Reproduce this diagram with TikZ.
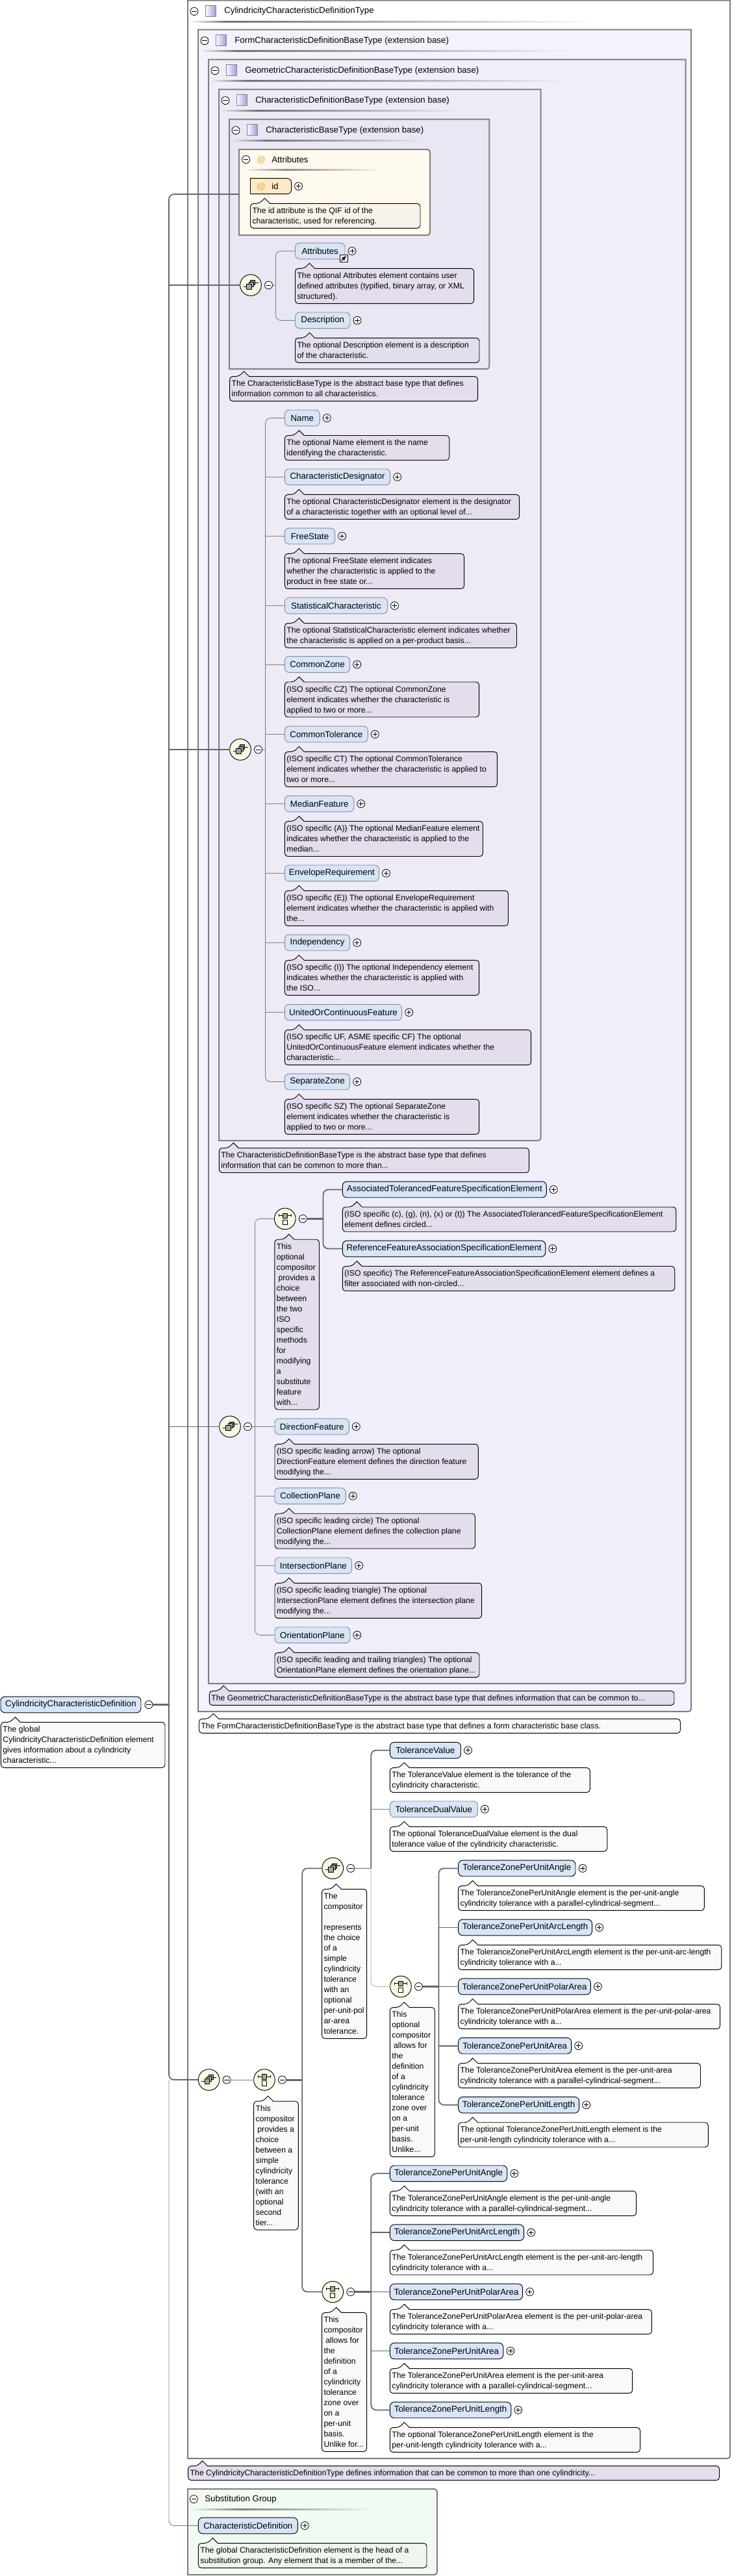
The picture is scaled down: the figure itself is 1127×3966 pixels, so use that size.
\documentclass[tikz,border=0pt]{standalone}
\usepackage{fontspec}
\setmainfont{Liberation Sans}

\definecolor{elemfill}{HTML}{D7E5F7}
\definecolor{cmtfill}{HTML}{E3DDEC}
\definecolor{cmtwhite}{HTML}{F9F9F9}
\definecolor{cmtcream}{HTML}{F8F3EA}
\definecolor{cmtgreen}{HTML}{EFF6EE}
\definecolor{compfill}{HTML}{FAF8E3}
\definecolor{boxtwo}{HTML}{F4F2FA}
\definecolor{boxthree}{HTML}{F0EEF8}
\definecolor{boxfour}{HTML}{EEEBF6}
\definecolor{boxfive}{HTML}{EAE7F4}
\definecolor{attrbg}{HTML}{FFF9EE}
\definecolor{attrfill}{HTML}{FFE9C6}
\definecolor{subbg}{HTML}{F1FBF1}
\definecolor{atsign}{HTML}{F0A63C}
\definecolor{iconviolet}{HTML}{A99BD8}

\tikzset{
  elembase/.style={fill=elemfill,rounded corners=5pt,minimum height=18.5pt,inner sep=0pt,outer sep=0pt,
    font=\fontsize{10}{12}\selectfont},
  elemreq/.style={elembase,draw=black,line width=0.7pt},
  elemopt/.style={elembase,draw=black!45,line width=0.7pt},
  plusmark/.style={circle,draw=black,fill=white,line width=0.6pt,minimum size=9pt,inner sep=0pt,outer sep=0pt,
    path picture={\draw[line width=0.6pt] (path picture bounding box.center) +(-2.8pt,0) -- +(2.8pt,0) +(0,-2.8pt) -- +(0,2.8pt);}},
  minusmark/.style={circle,draw=black,fill=white,line width=0.6pt,minimum size=9pt,inner sep=0pt,outer sep=0pt,
    path picture={\draw[line width=0.6pt] (path picture bounding box.center) +(-2.8pt,0) -- +(2.8pt,0);}},
  cmtline/.style={draw=black,line width=0.7pt},
  cmttext/.style={anchor=north west,inner sep=0pt,outer sep=0pt,align=left,font=\fontsize{9.2}{12}\selectfont},
  typeline/.style={draw=black!50,line width=1.5pt},
  typetext/.style={anchor=west,inner sep=0pt,font=\fontsize{10}{12}\selectfont},
  compos/.style={circle,draw=black,fill=compfill,line width=0.7pt,minimum size=24.5pt,inner sep=0pt,outer sep=0pt},
  optline/.style={draw=black!50,line width=0.7pt},
  faintline/.style={draw=black!28,line width=0.7pt},
  reqline/.style={draw=black!60,line width=1.3pt},
  heavyline/.style={draw=black!60,line width=2.2pt},
  seqglyph/.pic={
    \draw[line width=0.6pt] (-11.5,2) -- (-6,2);
    \draw[line width=0.6pt] (6,-4) -- (11.5,-4);
    \filldraw[fill=black!45,line width=0.5pt] (-0.5,-7.5) rectangle (6.5,-0.5);
    \filldraw[fill=black!35,line width=0.5pt] (-3,-5) rectangle (4,2);
    \filldraw[fill=black!35,line width=0.5pt] (-6.5,-2) rectangle (1,6);
  },
  choiceglyph/.pic={
    \draw[line width=0.6pt] (-9.5,-5) -- (9.5,-5);
    \draw[line width=0.6pt] (-9.5,-7) -- (-9.5,-3) (9.5,-7) -- (9.5,-3);
    \filldraw[fill=black!35,line width=0.5pt] (-3.5,-8.5) rectangle (3.5,-1);
    \filldraw[fill=white,line width=0.5pt] (-3.5,1.5) rectangle (3.5,9);
  },
}

% element with its plus mark
\newcommand{\elemnode}[6][elemreq]{
  \pgfmathsetmacro\elwd{(#4-#3)*0.75}
  \node[#1,minimum width=\elwd pt,anchor=west] (#2) at (#3,#5) {#6};
  \node[plusmark] (#2plus) at (#4+11,#5) {};
}
% note with notch, n lines of text
\newcommand{\cmtnode}[7][cmtfill]{
  \draw[cmtline,fill=#1,rounded corners=3.5pt] (#3,#5+16*#6+6) -- (#3,#5) -- (#3+14,#5) [sharp corners] -- (#3+22,#5-8) -- (#3+30,#5)
    [rounded corners=3.5pt] -- (#4,#5) -- (#4,#5+16*#6+6) -- cycle;
  \node[cmttext] (#2) at (#3+3,#5+3) {\rule{0pt}{9pt}#7};
}
% type box with header
\newcommand{\typebox}[8]{
  \draw[typeline,fill=#6] (#2,#3) -- (#4,#3) [rounded corners=3pt] -- (#4,#5) [sharp corners] -- (#2,#5) -- cycle;
  \node[minusmark] (#1minus) at (#2+10,#3+17) {};
  \shade[left color=white,right color=iconviolet,draw=iconviolet!80!black,line width=0.4pt] (#2+27,#3+8) rectangle (#2+43,#3+25);
  \node[typetext] (#1) at (#2+56,#3+17) {#8};
  \shade[left color=#6,right color=black!55] (#2+3,#3+32) rectangle (#2+60,#3+34);
  \shade[left color=black!55,right color=#6] (#2+60,#3+32) rectangle (#7,#3+34);
}
% compositor with its minus mark
\newcommand{\compnode}[4]{
  \node[compos] (#1) at (#2,#3) {};
  \pic at (#1) {#4};
  \node[minusmark] (#1minus) at (#2+27.5,#3) {};
}

\begin{document}
\begin{tikzpicture}[x=0.75pt,y=-0.75pt]
  \useasboundingbox (0,0) rectangle (1127,3966);

  \typebox{cyltype}{289}{0.5}{1124}{3785}{white}{919}{CylindricityCharacteristicDefinitionType}
  \typebox{formtype}{305}{45.7}{1064}{2635}{boxtwo}{876}{FormCharacteristicDefinitionBaseType (extension base)}
  \typebox{geomtype}{321}{91.7}{1055.5}{2592}{boxthree}{873}{GeometricCharacteristicDefinitionBaseType (extension base)}
  \typebox{deftype}{337}{137.7}{832.5}{1756}{boxfour}{709}{CharacteristicDefinitionBaseType (extension base)}
  \typebox{basetype}{353}{183.7}{753.3}{568}{boxfive}{655}{CharacteristicBaseType (extension base)}

  % attributes
  \draw[typeline,fill=attrbg,rounded corners=3pt] (368,230) [sharp corners] -- (368,362) [rounded corners=3pt] -- (662,362) -- (662,230) [sharp corners] -- cycle;
  \node[minusmark] (attrminus) at (378.6,245.5) {};
  \node[typetext,text=atsign] (attrat) at (395,246.5) {@};
  \node[typetext] (attrtitle) at (418,245.5) {Attributes};
  \shade[left color=attrbg,right color=black!45] (375,260) rectangle (440,262);
  \shade[left color=black!45,right color=attrbg] (440,260) rectangle (587,262);
  \draw[cmtline,fill=attrfill,rounded corners=5pt] (385.5,274.7) [sharp corners] -- (385.5,298.7) [rounded corners=5pt] -- (448.7,298.7) -- (448.7,274.7) [sharp corners] -- cycle;
  \node[typetext,text=atsign] (attrsign) at (395,287.5) {@};
  \node[typetext] (attrid) at (418,286.5) {id};
  \node[plusmark] (attridplus) at (459.5,286.7) {};
  \cmtnode[cmtcream]{attridnote}{385.5}{647}{313.3}{2}{The id attribute is the QIF id of the\\characteristic, used for referencing.}
  \coordinate (attrport) at (368,299);

  % base type
  \compnode{seqbase}{386}{439}{seqglyph}
  \coordinate (barbase) at (424.5,439);
  \elemnode[elemopt]{baseattr}{454.5}{531}{386.5}{Attributes}
  \node[draw=black,fill=white,minimum size=8.5pt,inner sep=0pt,line width=0.6pt] (baseattrlink) at (529.3,397.7) {};
  \draw[-latex,line width=1pt] (525.5,401.5) -- (533.5,393.5);
  \cmtnode{baseattrnote}{454.5}{729.6}{413.3}{3}{The optional Attributes element contains user\\defined attributes (typified, binary array, or XML\\structured).}
  \elemnode[elemopt]{basedesc}{454.5}{539}{493.3}{Description}
  \cmtnode{basedescnote}{454.5}{738}{520.3}{2}{The optional Description element is a description\\of the characteristic.}
  \cmtnode{basenote}{353.6}{735.7}{579.6}{2}{The CharacteristicBaseType is the abstract base type that defines\\information common to all characteristics.}
  \draw[optline] (seqbaseminus) -- (barbase);
  \draw[optline,rounded corners=6pt] (baseattr.west) -| (barbase) |- (basedesc.west);

  % definition type
  \compnode{seqdef}{370}{1154}{seqglyph}
  \coordinate (bardef) at (408.6,1154);
  \elemnode[elemopt]{defname}{438.4}{492.3}{643.6}{Name}
  \cmtnode{defnamenote}{438.4}{691.8}{670.5}{2}{The optional Name element is the name\\identifying the characteristic.}
  \elemnode[elemopt]{defdesig}{438.4}{600.7}{734.3}{CharacteristicDesignator}
  \cmtnode{defdesignote}{438.4}{799.7}{761.4}{2}{The optional CharacteristicDesignator element is the designator\\of a characteristic together with an optional level of...}
  \elemnode[elemopt]{deffree}{438.4}{515.7}{825.4}{FreeState}
  \cmtnode{deffreenote}{438.4}{714.7}{852.4}{3}{The optional FreeState element indicates\\whether the characteristic is applied to the\\product in free state or...}
  \elemnode[elemopt]{defstat}{438.4}{596.5}{932.5}{StatisticalCharacteristic}
  \cmtnode{defstatnote}{438.4}{795.5}{959.5}{2}{The optional StatisticalCharacteristic element indicates whether\\the characteristic is applied on a per-product basis...}
  \elemnode[elemopt]{defzone}{438.4}{538.7}{1023}{CommonZone}
  \cmtnode{defzonenote}{438.4}{737.7}{1050}{3}{(ISO specific CZ) The optional CommonZone\\element indicates whether the characteristic is\\applied to two or more...}
  \elemnode[elemopt]{deftol}{438.4}{566.3}{1130.4}{CommonTolerance}
  \cmtnode{deftolnote}{438.4}{765.7}{1157.4}{3}{(ISO specific CT) The optional CommonTolerance\\element indicates whether the characteristic is applied to\\two or more...}
  \elemnode[elemopt]{defmedian}{438.4}{544.8}{1237.5}{MedianFeature}
  \cmtnode{defmediannote}{438.4}{743.5}{1264.5}{3}{(ISO specific (A)) The optional MedianFeature element\\indicates whether the characteristic is applied to the\\median...}
  \elemnode[elemopt]{defenv}{438.4}{583.5}{1344.3}{EnvelopeRequirement}
  \cmtnode{defenvnote}{438.4}{782.5}{1371.3}{3}{(ISO specific (E)) The optional EnvelopeRequirement\\element indicates whether the characteristic is applied with\\the...}
  \elemnode[elemopt]{defindep}{438.4}{538.7}{1451.4}{Independency}
  \cmtnode{defindepnote}{438.4}{737.7}{1478.4}{3}{(ISO specific (I)) The optional Independency element\\indicates whether the characteristic is applied with\\the ISO...}
  \elemnode[elemopt]{defunited}{438.4}{618.7}{1558.6}{UnitedOrContinuousFeature}
  \cmtnode{defunitednote}{438.4}{817.7}{1585.6}{3}{(ISO specific UF, ASME specific CF) The optional\\UnitedOrContinuousFeature element indicates whether the\\characteristic...}
  \elemnode[elemopt]{defsep}{438.4}{538.7}{1665.4}{SeparateZone}
  \cmtnode{defsepnote}{438.4}{737.7}{1692.4}{3}{(ISO specific SZ) The optional SeparateZone\\element indicates whether the characteristic is\\applied to two or more...}
  \cmtnode{defnote}{337.4}{814.6}{1767.5}{2}{The CharacteristicDefinitionBaseType is the abstract base type that defines\\information that can be common to more than...}
  \draw[optline] (seqdefminus) -- (bardef);
  \draw[optline,rounded corners=6pt] (defname.west) -| (bardef) |- (defsep.west);
  \foreach \elname in {defdesig,deffree,defstat,defzone,deftol,defmedian,defenv,defindep,defunited}
    \draw[optline] (\elname.west) -- (\elname.west -| bardef);

  % geometric type
  \compnode{seqgeom}{354}{2196.4}{seqglyph}
  \coordinate (bargeom) at (392.5,2196.4);
  \compnode{choicegeom}{438.8}{1876.4}{choiceglyph}
  \coordinate (barchoice) at (497.5,1876.4);
  \elemnode{geomassoc}{527.4}{841.3}{1831.4}{AssociatedTolerancedFeatureSpecificationElement}
  \cmtnode{geomassocnote}{527.4}{1040.8}{1858.2}{2}{(ISO specific (c), (g), (n), (x) or (t)) The AssociatedTolerancedFeatureSpecificationElement\\element defines circled...}
  \elemnode{geomref}{527.4}{839.8}{1922.5}{ReferenceFeatureAssociationSpecificationElement}
  \cmtnode{geomrefnote}{527.4}{1038.8}{1949.5}{2}{(ISO specific) The ReferenceFeatureAssociationSpecificationElement element defines a\\filter associated with non-circled...}
  \cmtnode{choicegeomnote}{422.9}{491.5}{1908.2}{16}{This\\optional\\compositor\\\hspace*{2pt}provides a\\choice\\between\\the two\\ISO\\specific\\methods\\for\\modifying\\a\\substitute\\feature\\with...}
  \elemnode[elemopt]{geomdir}{423}{537.3}{2196.4}{DirectionFeature}
  \cmtnode{geomdirnote}{423}{736.3}{2223.3}{3}{(ISO specific leading arrow) The optional\\DirectionFeature element defines the direction feature\\modifying the...}
  \elemnode[elemopt]{geomcoll}{423}{532.3}{2303.2}{CollectionPlane}
  \cmtnode{geomcollnote}{423}{731.5}{2330.2}{3}{(ISO specific leading circle) The optional\\CollectionPlane element defines the collection plane\\modifying the...}
  \elemnode[elemopt]{geominter}{423}{541.7}{2410.3}{IntersectionPlane}
  \cmtnode{geominternote}{423}{741.7}{2437.3}{3}{(ISO specific leading triangle) The optional\\IntersectionPlane element defines the intersection plane\\modifying the...}
  \elemnode[elemopt]{geomorient}{423}{538.8}{2517.3}{OrientationPlane}
  \cmtnode{geomorientnote}{423}{738}{2544.3}{2}{(ISO specific leading and trailing triangles) The optional\\OrientationPlane element defines the orientation plane...}
  \cmtnode{geomnote}{322.3}{1038}{2603.3}{1}{The GeometricCharacteristicDefinitionBaseType is the abstract base type that defines information that can be common to...}
  \cmtnode[cmtwhite]{formnote}{306.5}{1047.5}{2646.3}{1}{The FormCharacteristicDefinitionBaseType is the abstract base type that defines a form characteristic base class.}
  \draw[optline] (seqgeomminus) -- (bargeom);
  \draw[optline,rounded corners=6pt] (choicegeom) -| (bargeom) |- (geomorient.west);
  \foreach \elname in {geomdir,geomcoll,geominter}
    \draw[optline] (\elname.west) -- (\elname.west -| bargeom);
  \draw[heavyline] (choicegeomminus) -- (barchoice);
  \draw[reqline,rounded corners=6pt] (geomassoc.west) -| (barchoice) |- (geomref.west);

  % root element
  \node[elemreq,minimum width=162pt,anchor=west] (root) at (1,2624.5) {CylindricityCharacteristicDefinition};
  \node[minusmark] (rootminus) at (229,2624.5) {};
  \cmtnode[cmtwhite]{rootnote}{1.4}{254}{2651.5}{4}{The global\\CylindricityCharacteristicDefinition element\\gives information about a cylindricity\\characteristic...}

  % tolerance part
  \compnode{seqcyl}{321.6}{3202}{seqglyph}
  \compnode{choicecyl}{407}{3202}{choiceglyph}
  \coordinate (barcyl) at (465.3,3202);
  \cmtnode[cmtwhite]{choicecylnote}{390.7}{459.4}{3235}{12}{This\\compositor\\\hspace*{2pt}provides a\\choice\\between a\\simple\\cylindricity\\tolerance\\(with an\\optional\\second\\tier...}
  \compnode{seqtol}{512.3}{2876.4}{seqglyph}
  \coordinate (bartol) at (571.2,2876.4);
  \cmtnode[cmtwhite]{seqtolnote}{495.6}{564.7}{2908.5}{14}{The\\compositor\\[12pt]represents\\the choice\\of a\\simple\\cylindricity\\tolerance\\with an\\optional\\per-unit-pol\\ar-area\\tolerance.}
  \elemnode{tolvalue}{600.4}{709.5}{2694.7}{ToleranceValue}
  \cmtnode[cmtwhite]{tolvaluenote}{600.4}{908.3}{2721.6}{2}{The ToleranceValue element is the tolerance of the\\cylindricity characteristic.}
  \elemnode[elemopt]{toldual}{600.4}{735.4}{2785.3}{ToleranceDualValue}
  \cmtnode[cmtwhite]{toldualnote}{600.4}{934.8}{2812.3}{2}{The optional ToleranceDualValue element is the dual\\tolerance value of the cylindricity characteristic.}

  % per unit zone, optional
  \compnode{choiceopt}{617}{3058.5}{choiceglyph}
  \coordinate (baropt) at (675.5,3058.5);
  \cmtnode[cmtwhite]{choiceoptnote}{600.4}{669.5}{3090.6}{14}{This\\optional\\compositor\\\hspace*{2pt}allows for\\the\\definition\\of a\\cylindricity\\tolerance\\zone over\\on a\\per-unit\\basis.\\Unlike...}
  \elemnode{optangle}{705.7}{886}{2876.4}{ToleranceZonePerUnitAngle}
  \cmtnode[cmtwhite]{optanglenote}{705.7}{1084.4}{2903.4}{2}{The ToleranceZonePerUnitAngle element is the per-unit-angle\\cylindricity tolerance with a parallel-cylindrical-segment...}
  \elemnode{optarc}{705.7}{911.6}{2967.5}{ToleranceZonePerUnitArcLength}
  \cmtnode[cmtwhite]{optarcnote}{705.7}{1110.9}{2994.5}{2}{The ToleranceZonePerUnitArcLength element is the per-unit-arc-length\\cylindricity tolerance with a...}
  \elemnode{optpolar}{705.7}{909.4}{3058.5}{ToleranceZonePerUnitPolarArea}
  \cmtnode[cmtwhite]{optpolarnote}{705.7}{1108.7}{3085.5}{2}{The ToleranceZonePerUnitPolarArea element is the per-unit-polar-area\\cylindricity tolerance with a...}
  \elemnode{optarea}{705.7}{879.7}{3149.6}{ToleranceZonePerUnitArea}
  \cmtnode[cmtwhite]{optareanote}{705.7}{1078.5}{3176.6}{2}{The ToleranceZonePerUnitArea element is the per-unit-area\\cylindricity tolerance with a parallel-cylindrical-segment...}
  \elemnode{optlength}{705.7}{891.6}{3240.7}{ToleranceZonePerUnitLength}
  \cmtnode[cmtwhite]{optlengthnote}{705.7}{1090.4}{3267.7}{2}{The optional ToleranceZonePerUnitLength element is the\\per-unit-length cylindricity tolerance with a...}

  % per unit zone
  \compnode{choicezone}{512.3}{3528.5}{choiceglyph}
  \coordinate (barzone) at (571.2,3528.5);
  \cmtnode[cmtwhite]{choicezonenote}{495.6}{564.7}{3560.4}{13}{This\\compositor\\\hspace*{2pt}allows for\\the\\definition\\of a\\cylindricity\\tolerance\\zone over\\on a\\per-unit\\basis.\\Unlike for...}
  \elemnode{zoneangle}{600.4}{780.8}{3346.3}{ToleranceZonePerUnitAngle}
  \cmtnode[cmtwhite]{zoneanglenote}{600.4}{979.6}{3373.3}{2}{The ToleranceZonePerUnitAngle element is the per-unit-angle\\cylindricity tolerance with a parallel-cylindrical-segment...}
  \elemnode{zonearc}{600.4}{806.7}{3437.2}{ToleranceZonePerUnitArcLength}
  \cmtnode[cmtwhite]{zonearcnote}{600.4}{1005.6}{3464.2}{2}{The ToleranceZonePerUnitArcLength element is the per-unit-arc-length\\cylindricity tolerance with a...}
  \elemnode{zonepolar}{600.4}{804.6}{3528.5}{ToleranceZonePerUnitPolarArea}
  \cmtnode[cmtwhite]{zonepolarnote}{600.4}{1003.4}{3555.5}{2}{The ToleranceZonePerUnitPolarArea element is the per-unit-polar-area\\cylindricity tolerance with a...}
  \elemnode{zonearea}{600.4}{774.9}{3619.5}{ToleranceZonePerUnitArea}
  \cmtnode[cmtwhite]{zoneareanote}{600.4}{973.7}{3646.5}{2}{The ToleranceZonePerUnitArea element is the per-unit-area\\cylindricity tolerance with a parallel-cylindrical-segment...}
  \elemnode{zonelength}{600.4}{786.8}{3710.4}{ToleranceZonePerUnitLength}
  \cmtnode[cmtwhite]{zonelengthnote}{600.4}{985.6}{3737.4}{2}{The optional ToleranceZonePerUnitLength element is the\\per-unit-length cylindricity tolerance with a...}
  \cmtnode{cylnote}{289.7}{1107.7}{3796.6}{1}{The CylindricityCharacteristicDefinitionType defines information that can be common to more than one cylindricity...}

  % substitution group
  \draw[typeline,fill=subbg,rounded corners=3pt] (289,3832) [sharp corners] -- (289,3964) [rounded corners=3pt] -- (672.8,3964) -- (672.8,3832) [sharp corners] -- cycle;
  \node[minusmark] (subminus) at (298.4,3847.6) {};
  \node[typetext] (subtitle) at (315,3847.6) {Substitution Group};
  \shade[left color=subbg,right color=black!50] (293.5,3862) rectangle (370,3864);
  \shade[left color=black!50,right color=subbg] (370,3862) rectangle (577,3864);
  \elemnode{subchar}{305.4}{458.3}{3888.4}{CharacteristicDefinition}
  \cmtnode[cmtgreen]{subcharnote}{305.4}{657}{3915.5}{2}{The global CharacteristicDefinition element is the head of a\\substitution group. Any element that is a member of the...}

  % connectors
  \coordinate (busroot) at (260,2624.5);
  \coordinate (busseq) at (260,3202);
  \draw[heavyline] (rootminus) -- (busroot);
  \draw[reqline,rounded corners=6pt] (attrport) -| (busroot) -- (busseq) -- (seqcyl);
  \foreach \compname in {seqbase,seqdef,seqgeom}
    \draw[reqline] (\compname) -- (\compname -| busroot);
  \draw[optline,rounded corners=6pt] (busseq) |- (subchar.west);

  \draw[optline] (seqcylminus) -- (choicecyl);
  \draw[heavyline] (choicecylminus) -- (barcyl);
  \draw[reqline,rounded corners=6pt] (seqtol) -| (barcyl) |- (choicezone);

  \draw[reqline] (seqtolminus) -- (bartol);
  \draw[reqline,rounded corners=6pt] (bartol) |- (tolvalue.west);
  \draw[optline] (toldual.west) -- (toldual.west -| bartol);
  \draw[faintline,rounded corners=6pt] (bartol) |- (choiceopt);

  \draw[heavyline] (choiceoptminus) -- (baropt);
  \draw[reqline,rounded corners=6pt] (optangle.west) -| (baropt) |- (optlength.west);
  \foreach \elname in {optarc,optpolar,optarea}
    \draw[reqline] (\elname.west) -- (\elname.west -| baropt);

  \draw[heavyline] (choicezoneminus) -- (barzone);
  \draw[reqline,rounded corners=6pt] (zoneangle.west) -| (barzone) |- (zonelength.west);
  \foreach \elname in {zonearc,zonepolar,zonearea}
    \draw[reqline] (\elname.west) -- (\elname.west -| barzone);
\end{tikzpicture}
\end{document}
